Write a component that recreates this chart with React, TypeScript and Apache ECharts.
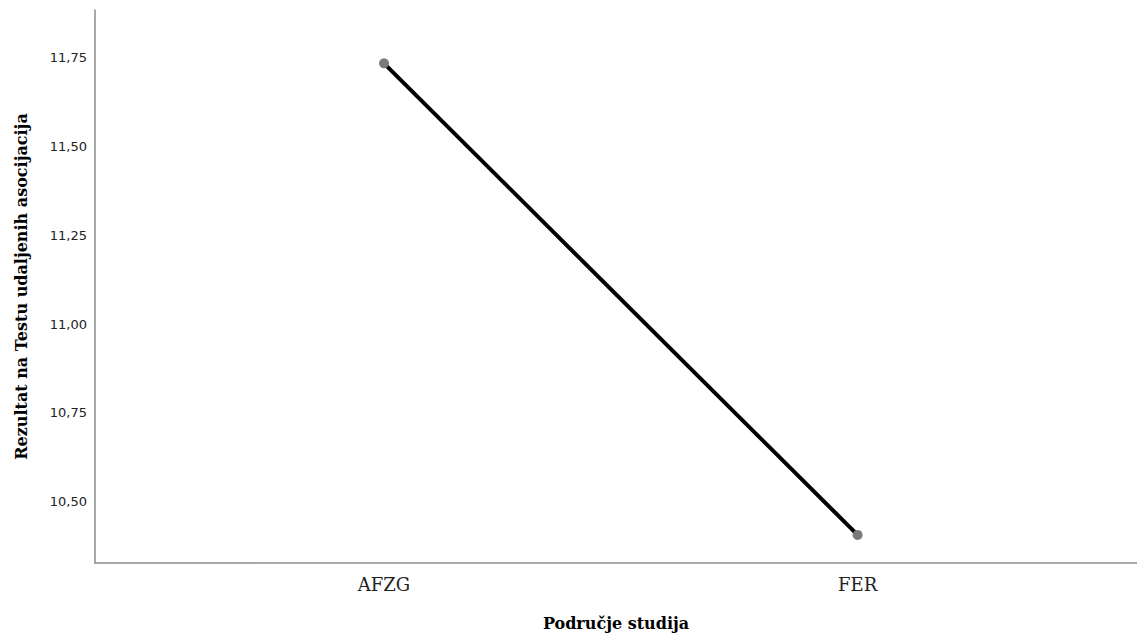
import React, { useEffect, useRef } from "react";
import * as echarts from "echarts";

const categories = ["AFZG", "FER"];
const means = [11.733, 10.407];
const yTicks = [10.5, 10.75, 11.0, 11.25, 11.5, 11.75];
const xTitle = "Područje studija";
const yTitle = "Rezultat na Testu udaljenih asocijacija";

export default function App() {
  const ref = useRef<HTMLDivElement>(null);
  useEffect(() => {
    if (!ref.current) return;
    const chart = echarts.init(ref.current, undefined, { renderer: "svg" });
    const pts = means.map((v, i) => [i, v]);
    chart.setOption({
      animation: false,
      backgroundColor: "#ffffff",
      grid: { left: 95, top: 10, right: 0, bottom: 73, containLabel: false },
      xAxis: {
        type: "value",
        min: -0.6103,
        max: 1.59,
        name: xTitle,
        nameLocation: "middle",
        nameGap: 52,
        nameTextStyle: { fontFamily: "DejaVu Serif", fontWeight: "bold", fontSize: 16, color: "#000" },
        axisLine: { show: true, onZero: false, lineStyle: { color: "#8c8c8c", width: 1.5 } },
        axisTick: { show: false },
        splitLine: { show: false },
        axisLabel: {
          customValues: categories.map((_, i) => i),
          formatter: (v: number) => categories[Math.round(v)] ?? "",
          margin: 12,
          fontFamily: "DejaVu Serif",
          fontSize: 18,
          color: "#222",
        },
      },
      yAxis: {
        type: "value",
        min: 10.328,
        max: 11.883,
        name: yTitle,
        nameLocation: "middle",
        nameGap: 66,
        nameRotate: 90,
        nameTextStyle: { fontFamily: "DejaVu Serif", fontWeight: "bold", fontSize: 16, color: "#000" },
        axisLine: { show: true, onZero: false, lineStyle: { color: "#8c8c8c", width: 1.5 } },
        axisTick: { show: false, customValues: yTicks },
        splitLine: { show: false },
        axisLabel: {
          customValues: yTicks,
          formatter: (v: number) => v.toFixed(2).replace(".", ","),
          margin: 8,
          fontFamily: "DejaVu Sans",
          fontSize: 13,
          color: "#222",
        },
      },
      series: [
        {
          type: "line",
          data: pts,
          showSymbol: false,
          lineStyle: { color: "#000", width: 4 },
          z: 2,
        },
        {
          type: "scatter",
          data: pts,
          symbol: "circle",
          symbolSize: 10,
          itemStyle: { color: "#7a7a7a", opacity: 1 },
          z: 3,
        },
      ],
    });
    return () => chart.dispose();
  }, []);
  return (
    <div
      ref={ref}
      style={{ position: "fixed", left: 0, top: 0, width: 1137, height: 636 }}
    />
  );
}
